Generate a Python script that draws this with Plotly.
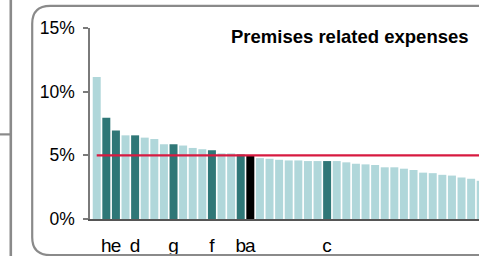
import plotly.graph_objects as go

# ---- data ----
bank_index = list(range(41))
expense_ratio = [11.15, 7.95, 6.95, 6.57, 6.57, 6.39, 6.28, 5.87, 5.87, 5.77,
                 5.58, 5.48, 5.40, 5.15, 5.15, 5.07, 4.96, 4.78, 4.73, 4.65,
                 4.60, 4.60, 4.55, 4.55, 4.55, 4.55, 4.45, 4.34, 4.29, 4.24,
                 4.06, 4.06, 3.95, 3.85, 3.64, 3.60, 3.47, 3.41, 3.26, 3.16,
                 3.00]
bank_labels = ["", "h", "e", "", "d", "", "", "", "g", "",
               "", "", "f", "", "", "b", "a", "", "", "",
               "", "", "", "", "c", "", "", "", "", "",
               "", "", "", "", "", "", "", "", "", "",
               ""]
bank_group = ["peer", "named", "named", "peer", "named", "peer", "peer", "peer", "named", "peer",
              "peer", "peer", "named", "peer", "peer", "named", "focus", "peer", "peer", "peer",
              "peer", "peer", "peer", "peer", "named", "peer", "peer", "peer", "peer", "peer",
              "peer", "peer", "peer", "peer", "peer", "peer", "peer", "peer", "peer", "peer",
              "peer"]
average_ratio = 5.0
y_ticks = [0, 5, 10, 15]
y_tick_text = ["0%", "5%", "10%", "15%"]
title_text = "Premises related expenses"

# ---- style ----
group_colors = {"peer": "#b0d7da", "named": "#2f7777", "focus": "#000000"}
W, H = 479, 256
L, R, T, B = 90, 0, 28, 35
PW, PH = W - L - R, H - T - B


def px(x):
    return (x - L) / PW


def py(y):
    return (H - B - y) / PH


fig = go.Figure()
fig.add_trace(go.Bar(
    x=bank_index, y=expense_ratio,
    marker=dict(color=[group_colors[g] for g in bank_group], line=dict(width=0)),
    showlegend=False,
))
fig.add_trace(go.Scatter(
    x=[bank_index[0], bank_index[-1] + 1], y=[average_ratio, average_ratio],
    mode="lines", line=dict(color="#d71a40", width=2.2), showlegend=False,
))

gray = "#8a8a8a"
shapes = [
    dict(type="line", xref="paper", yref="paper", x0=px(10.8), x1=px(10.8), y0=py(-2), y1=py(260),
         line=dict(color=gray, width=2.6)),
    dict(type="line", xref="paper", yref="paper", x0=px(-2), x1=px(10.8), y0=py(135.5), y1=py(135.5),
         line=dict(color=gray, width=2.2)),
]
lx, tyy, byy, r = 32.2, 5.7, 257.5, 18
path = (f"M {px(560)} {py(tyy)} L {px(lx + r)} {py(tyy)} "
        f"Q {px(lx)} {py(tyy)} {px(lx)} {py(tyy + r)} "
        f"L {px(lx)} {py(byy - r)} "
        f"Q {px(lx)} {py(byy)} {px(lx + r)} {py(byy)} "
        f"L {px(560)} {py(byy)}")
shapes.append(dict(type="path", xref="paper", yref="paper", path=path,
                   line=dict(color=gray, width=2.2)))

fig.update_layout(
    width=W, height=H,
    margin=dict(l=L, r=R, t=T, b=B, pad=0),
    paper_bgcolor="white", plot_bgcolor="white",
    bargap=0.167,
    font=dict(family="Liberation Sans, Arial, sans-serif", color="#000000"),
    shapes=shapes,
    annotations=[dict(text=f"<b>{title_text}</b>", xref="paper", yref="paper",
                      x=px(470.5), y=py(36.2), xanchor="right", yanchor="middle",
                      showarrow=False, font=dict(size=18.5, color="#000000"))],
    xaxis=dict(range=[-0.7, 39.82], tickmode="array", tickvals=bank_index, ticktext=bank_labels,
               showgrid=False, zeroline=False, showline=True, linecolor="#555555", linewidth=2,
               ticks="", tickangle=0, tickfont=dict(size=19), ticklabelstandoff=8),
    yaxis=dict(range=[0, 15], tickmode="array", tickvals=y_ticks, ticktext=y_tick_text,
               showgrid=False, zeroline=False, showline=True, linecolor="#7a7a7a", linewidth=1.5,
               ticks="outside", ticklen=5, tickcolor="#7a7a7a", tickwidth=1.5,
               tickfont=dict(size=17.5), ticklabelstandoff=5),
)

fig.write_html("out.html", config={"displayModeBar": False},
               post_script="document.body.style.margin='0';document.body.style.overflow='hidden';")
